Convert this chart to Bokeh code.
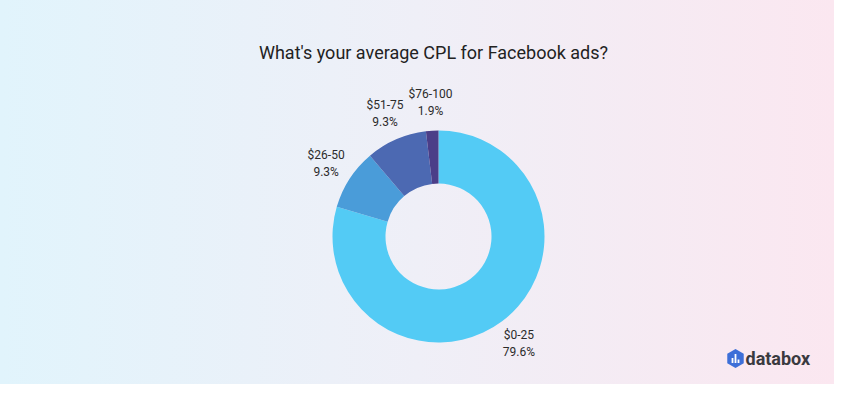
import math
from bokeh.plotting import figure
from bokeh.models import Range1d, ColumnDataSource, Label
from bokeh.core.properties import value
from bokeh.embed import file_html
from bokeh.resources import INLINE

# ---- data ----
categories = ["$0-25", "$26-50", "$51-75", "$76-100"]
shares = [79.6, 9.3, 9.3, 1.9]
colors = ["#53CBF5", "#4A9CD9", "#4C69B2", "#4B3E88"]
title_text = "What's your average CPL for Facebook ads?"

# ---- geometry (page pixels) ----
W, H = 834, 384
CX, CY = 438, 236          # donut centre in page px
R_OUT, R_IN = 106, 53
R_LAB = 134

def yd(py):                # page y -> data y
    return 400 - py

total = sum(shares)
starts, ends, mids = [], [], []
acc = 0.0
for s in shares:
    a0 = math.pi / 2 - acc / total * 2 * math.pi
    acc += s
    a1 = math.pi / 2 - acc / total * 2 * math.pi
    starts.append(a0)
    ends.append(a1)
    mids.append((a0 + a1) / 2)

src = ColumnDataSource(dict(
    x=[CX] * len(shares), y=[yd(CY)] * len(shares),
    start=starts, end=ends, color=colors,
))

lab_x = [CX + R_LAB * math.cos(m) for m in mids]
lab_y = [yd(CY) + R_LAB * math.sin(m) for m in mids]
lab_txt = [f"{c}\n{s:.1f}%" for c, s in zip(categories, shares)]
lab_src = ColumnDataSource(dict(x=lab_x, y=lab_y, text=lab_txt))

p = figure(width=W, height=H, output_backend="svg", toolbar_location=None,
           x_range=Range1d(0, W), y_range=Range1d(400 - H, 400),
           min_border=0, tools="")
p.axis.visible = False
p.grid.visible = False
p.outline_line_color = None
p.background_fill_alpha = 0
p.border_fill_alpha = 0
p.styles = {"background": "linear-gradient(90deg, #E1F4FC 0%, #EFEFF7 50%, #FBE7F0 100%)"}

p.annular_wedge(x="x", y="y", inner_radius=R_IN, outer_radius=R_OUT,
                inner_radius_units="screen", outer_radius_units="screen",
                start_angle="start", end_angle="end", direction="clock",
                fill_color="color", line_color=None, source=src)

p.text(x="x", y="y", text="text", source=lab_src, text_align="center",
       text_baseline="middle", text_font=value("Roboto"),
       text_font_size="12px", text_color="#2b2b2b", text_line_height=1.2)

p.add_layout(Label(x=433, y=yd(52), text=title_text, text_align="center",
                   text_baseline="middle", text_font="Roboto",
                   text_font_size="18px", text_color="#222222"))

# databox logo
p.scatter(x=[735], y=[yd(358)], marker="hex", size=19, angle=math.pi / 6,
          fill_color="#3D6FD8", line_color=None)
p.vbar(x=[732.0, 735, 738.0], bottom=[yd(362.5)] * 3,
       top=[yd(357.5), yd(353.5), yd(359)], width=1.8,
       fill_color="white", line_color=None)
p.add_layout(Label(x=745, y=yd(358), text="databox", text_align="left",
                   text_baseline="middle", text_font="Roboto",
                   text_font_size="18px", text_font_style="bold",
                   text_color="#3a3a3f"))

open("out.html", "w").write(file_html(p, INLINE))
